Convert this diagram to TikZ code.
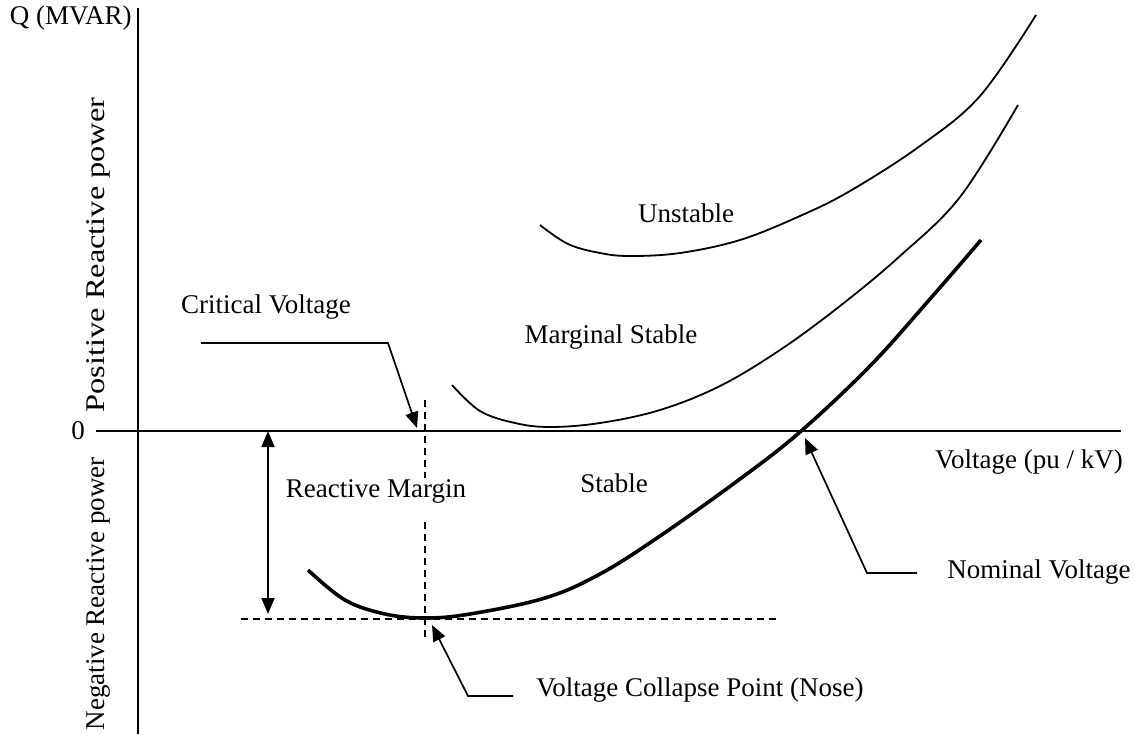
\documentclass[tikz,border=0pt]{standalone}
\usepackage{fontspec}
\setmainfont{Liberation Serif}
\usetikzlibrary{arrows.meta}

\begin{document}
\begin{tikzpicture}[
  x=0.5pt, y=-0.5pt,
  lbl/.style={font=\fontsize{13.5}{16}\selectfont, inner sep=0pt},
  axis/.style={line width=0.9pt},
  curve/.style={line width=0.9pt},
  thickcurve/.style={line width=1.8pt},
  lead/.style={line width=0.85pt},
  tip/.style={Triangle[length=8pt,width=6.5pt]},
  arr/.style={lead, -{Triangle[length=8pt,width=6.5pt]}},
  guide/.style={line width=0.75pt, dash pattern=on 3.5pt off 2.5pt}
]
\useasboundingbox (0,0) rectangle (1135,734);
% axes
\coordinate (ytop) at (138,8);
\coordinate (ybot) at (138,734);
\coordinate (xl) at (96,431);
\coordinate (xr) at (1121,431);
\draw[axis] (ytop) -- (ybot);
\draw[axis] (xl) -- (xr);
\node[lbl, anchor=east] (qlab) at (132,18) {Q (MVAR)};
\node[lbl] (zero) at (78,431) {0};
\node[lbl, rotate=90] (pos) at (98,255) {\scalebox{1.2}[1]{Positive Reactive power}};
\node[lbl, rotate=90, anchor=east] (neg) at (98,457) {Negative Reactive power};
\node[lbl] (vlab) at (1029,462) {Voltage (pu / kV)};
% curves
\draw[thickcurve] plot[smooth, tension=0.6] coordinates {(308,570) (345,600) (385,614) (425,618) (470,614) (545,598) (600,574) (660,536) (740,479) (800,432) (870,366) (930,299) (981,240)};
\draw[curve] plot[smooth, tension=0.6] coordinates {(452,385) (480,411) (515,423) (550,427) (600,423) (660,410) (720,386) (780,350) (840,306) (900,256) (960,197) (1018,105)};
\draw[curve] plot[smooth, tension=0.6] coordinates {(540,225) (568,244) (600,253) (630,256) (680,253) (740,240) (800,216) (850,191) (920,146) (980,96) (1036,15)};
\node[lbl] (unst) at (686,213) {Unstable};
\node[lbl] (marg) at (611,337) {Marginal Stable};
\node[lbl] (stab) at (614,483) {Stable};
% guides
\draw[guide] (425,400) -- (425,478);
\draw[guide] (425,522) -- (425,638);
\draw[guide] (241,619) -- (780,619);
% reactive margin
\coordinate (mtop) at (268,431);
\coordinate (mbot) at (268,614);
\draw[lead, {Triangle[length=8pt,width=6.5pt]}-{Triangle[length=8pt,width=6.5pt]}] (mtop) -- (mbot);
\node[lbl] (rmarg) at (376,491) {Reactive Margin};
% leaders
\node[lbl] (crit) at (266,307) {Critical Voltage};
\coordinate (cv1) at (201,343);
\coordinate (cv2) at (388,343);
\coordinate (cvtip) at (417,428);
\draw[arr] (cv1) -- (cv2) -- (cvtip);
\node[lbl] (nom) at (1039,572) {Nominal Voltage};
\coordinate (nv1) at (917,573);
\coordinate (nv2) at (867,573);
\coordinate (nvtip) at (805,438);
\draw[arr] (nv1) -- (nv2) -- (nvtip);
\node[lbl] (nose) at (700,690) {Voltage Collapse Point (Nose)};
\coordinate (ns1) at (513,696);
\coordinate (ns2) at (468,696);
\coordinate (nstip) at (432,625);
\draw[arr] (ns1) -- (ns2) -- (nstip);
\end{tikzpicture}
\end{document}
